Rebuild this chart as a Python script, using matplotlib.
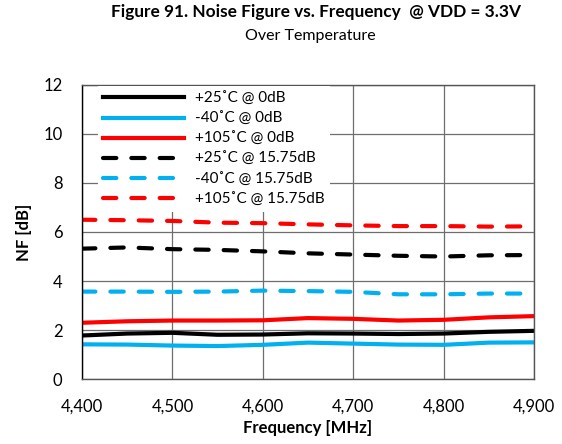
import matplotlib
matplotlib.use("Agg")
import matplotlib.pyplot as plt
from matplotlib.ticker import FuncFormatter

plt.rcParams['font.family'] = ['Lato', 'DejaVu Sans']

freq = [4400, 4450, 4500, 4550, 4600, 4650, 4700, 4750, 4800, 4850, 4900]

nf_25_0 = [1.78, 1.86, 1.89, 1.81, 1.82, 1.87, 1.86, 1.84, 1.86, 1.93, 1.97]
nf_m40_0 = [1.42, 1.41, 1.37, 1.35, 1.40, 1.49, 1.45, 1.41, 1.40, 1.49, 1.50]
nf_105_0 = [2.30, 2.36, 2.39, 2.39, 2.40, 2.49, 2.46, 2.39, 2.42, 2.52, 2.57]
nf_25_15 = [5.32, 5.37, 5.30, 5.27, 5.21, 5.13, 5.08, 5.03, 5.00, 5.05, 5.06]
nf_m40_15 = [3.57, 3.57, 3.56, 3.57, 3.61, 3.59, 3.56, 3.46, 3.46, 3.49, 3.49]
nf_105_15 = [6.50, 6.48, 6.45, 6.38, 6.36, 6.31, 6.27, 6.24, 6.24, 6.22, 6.23]

labels = ['+25˚C @ 0dB', '-40˚C @ 0dB', '+105˚C @ 0dB',
          '+25˚C @ 15.75dB', '-40˚C @ 15.75dB', '+105˚C @ 15.75dB']

BLUE = '#00B0F0'
RED = '#FF0000'

fig = plt.figure(figsize=(5.62, 4.44), dpi=100)
ax = fig.add_axes([0.146, 0.146, 0.804, 0.663])

lw = 3
dash = (3.2, 3.6)
ax.plot(freq, nf_25_0, color='black', lw=lw, label=labels[0])
ax.plot(freq, nf_m40_0, color=BLUE, lw=lw, label=labels[1])
ax.plot(freq, nf_105_0, color=RED, lw=lw, label=labels[2])
for y, c, lab in [(nf_25_15, 'black', labels[3]),
                  (nf_m40_15, BLUE, labels[4]),
                  (nf_105_15, RED, labels[5])]:
    ax.plot(freq, y, color=c, lw=lw, dashes=dash,
            dash_capstyle='round', label=lab)

ax.set_xlim(4400, 4900)
ax.set_ylim(0, 12)
ax.set_xticks(range(4400, 4901, 100))
ax.set_yticks(range(0, 13, 2))
ax.xaxis.set_major_formatter(FuncFormatter(lambda v, p: f'{int(v):,}'))
ax.tick_params(length=0, labelsize=12, colors='black')
ax.tick_params(axis='x', pad=14)
ax.tick_params(axis='y', pad=14)
ax.grid(True, color='#6e6e6e', lw=0.9)
ax.set_axisbelow(True)
for s in ax.spines.values():
    s.set_color('#555555')
    s.set_linewidth(1)
ax.spines['left'].set_color('black')

ax.set_xlabel('Frequency [MHz]', fontsize=12, fontweight='bold', labelpad=4)
ax.set_ylabel('NF [dB]', fontsize=12, fontweight='bold', labelpad=8)

leg = ax.legend(loc='upper left', bbox_to_anchor=(0.035, 0.995),
                borderaxespad=0, fontsize=11, handlelength=5.3,
                handletextpad=0.7, labelspacing=0.4, borderpad=0.35,
                frameon=True, fancybox=False)
leg.get_frame().set_facecolor('white')
leg.get_frame().set_edgecolor('none')
leg.get_frame().set_alpha(1)

fig.text(0.563, 0.972, 'Figure 91. Noise Figure vs. Frequency  @ VDD = 3.3V',
         ha='center', va='center', fontsize=12.4, fontweight='bold')
fig.text(0.553, 0.918, 'Over Temperature', ha='center', va='center', fontsize=11.5)

fig.savefig('out.png', dpi=100)
